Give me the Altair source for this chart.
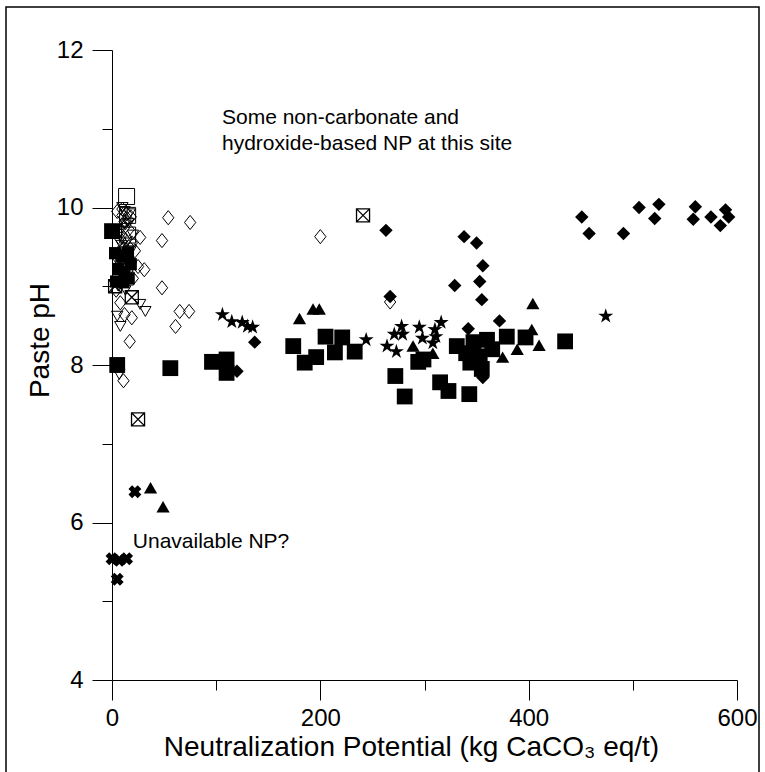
import altair as alt
import pandas as pd

# Neutralization Potential (kg CaCO3 eq/t) and paste pH, one pair of lists per sample group
open_diamond_np = [54, 75, 48, 31, 48, 65, 74, 61, 17, 11, 8, 19, 27, 12, 200, 267,
                   5, 10, 15, 12, 8, 16, 14, 6, 18, 20, 9, 4, 22, 25,
                   10, 14, 18, 12, 16, 9, 13, 19, 11]
open_diamond_ph = [9.87, 9.81, 9.58, 9.21, 8.98, 8.68, 8.68, 8.49, 8.30, 7.80, 8.79, 8.60, 9.62, 8.64, 9.63, 8.80,
                   9.95, 9.90, 9.85, 9.75, 9.60, 9.50, 9.40, 9.35, 9.30, 9.10, 9.05, 8.95, 9.45, 9.25,
                   9.98, 9.92, 9.88, 9.82, 9.72, 9.65, 9.58, 9.55, 9.48]

open_tri_np = [32, 27, 8, 5, 12, 16, 8, 14, 18, 10, 15, 6, 13, 7, 20, 10, 17, 13, 9]
open_tri_ph = [8.68, 8.77, 8.49, 8.62, 9.95, 9.80, 9.70, 9.55, 9.45, 9.30, 9.15, 9.00, 8.95, 7.88, 9.65,
               10.00, 9.92, 9.78, 9.52]

open_square_np = [14, 15, 15, 13]
open_square_ph = [10.14, 9.90, 9.65, 9.40]

filled_square_np = [56, 96, 110, 110, 174, 185, 196, 205, 221, 214, 233, 272, 281, 294, 315, 323,
                    343, 331, 347, 360, 353, 344, 379, 397, 435, 299, 340, 365, 355, 0, 5]
filled_square_ph = [7.96, 8.04, 8.07, 7.90, 8.24, 8.03, 8.10, 8.36, 8.35, 8.16, 8.17, 7.86, 7.60, 8.04, 7.78, 7.67,
                    7.63, 8.24, 8.29, 8.32, 8.11, 8.03, 8.36, 8.35, 8.30, 8.07, 8.15, 8.20, 7.95, 9.70, 8.00]

# Smaller filled squares packed near zero NP
small_square_np = [3, 9, 15, 18, 6, 12, 4, 11, 16]
small_square_ph = [9.42, 9.38, 9.42, 9.28, 9.22, 9.18, 9.06, 9.05, 9.10]

filled_diamond_np = [263, 267, 338, 350, 356, 329, 353, 355, 137, 372, 342, 356, 451, 458, 491, 506,
                     525, 521, 560, 558, 575, 589, 592, 584, 120]
filled_diamond_ph = [9.71, 8.87, 9.63, 9.55, 9.26, 9.01, 9.06, 8.83, 8.29, 8.56, 8.46, 7.84, 9.88, 9.67, 9.67, 10.00,
                     10.04, 9.86, 10.01, 9.85, 9.88, 9.97, 9.88, 9.77, 7.92]

filled_tri_np = [180, 193, 199, 289, 308, 404, 403, 410, 389, 375, 37, 49]
filled_tri_ph = [8.59, 8.71, 8.71, 8.24, 8.15, 8.78, 8.45, 8.25, 8.20, 8.10, 6.44, 6.20]

filled_star_np = [106, 115, 125, 130, 135, 244, 278, 271, 264, 273, 279, 295, 310, 316, 311, 308, 298, 474]
filled_star_ph = [8.64, 8.55, 8.54, 8.49, 8.48, 8.32, 8.49, 8.39, 8.24, 8.17, 8.39, 8.48, 8.45, 8.54, 8.36, 8.28, 8.34, 8.62]

boxed_x_np = [3, 19, 25, 241, 5, 3]
boxed_x_ph = [9.70, 8.86, 7.31, 9.90, 8.00, 9.00]

x_mark_np = [22, 0, 7, 14, 5]
x_mark_ph = [6.39, 5.54, 5.52, 5.54, 5.28]

# Annotations
note_text = ["Some non-carbonate and\nhydroxide-based NP at this site", "Unavailable NP?"]
note_np = [105.6, 20]
note_ph = [11.06, 5.68]

# Axis ticks
x_ticks = [0, 100, 200, 300, 400, 500, 600]
y_ticks = [4, 5, 6, 7, 8, 9, 10, 11, 12]

STAR = ("M0,-1L0.223,-0.307L0.951,-0.309L0.361,0.117L0.588,0.809L0,0.38"
        "L-0.588,0.809L-0.361,0.117L-0.951,-0.309L-0.223,-0.307Z")
BOXED_X = "M-1,-1L1,-1L1,1L-1,1Z M-1,-1L1,1 M1,-1L-1,1"
TALL_DIAMOND = "M0,-1L0.8,0L0,1L-0.8,0Z"

groups = [
    ("open_diamond", open_diamond_np, open_diamond_ph),
    ("open_tri", open_tri_np, open_tri_ph),
    ("open_square", open_square_np, open_square_ph),
    ("small_square", small_square_np, small_square_ph),
    ("filled_square", filled_square_np, filled_square_ph),
    ("filled_diamond", filled_diamond_np, filled_diamond_ph),
    ("filled_tri", filled_tri_np, filled_tri_ph),
    ("filled_star", filled_star_np, filled_star_ph),
    ("boxed_x", boxed_x_np, boxed_x_ph),
    ("x_mark", x_mark_np, x_mark_ph),
]
df = pd.concat(
    [pd.DataFrame({"np": xs, "ph": ys, "group": name}) for name, xs, ys in groups],
    ignore_index=True,
)

FONT = "Liberation Sans"

x_enc = alt.X(
    "np:Q",
    scale=alt.Scale(domain=[0, 600], nice=False, zero=False),
    axis=alt.Axis(
        values=x_ticks,
        format="d",
        labelExpr="datum.value % 200 === 0 ? datum.label : ''",
        tickSize={"condition": {"test": "datum.value % 200 === 0", "value": 20}, "value": 10},
        labelPadding=6,
        labelFontSize=24,
        labelFont=FONT,
        labelColor="black",
        labelFlush=False,
        tickColor="black",
        domainColor="black",
        grid=False,
        title="Neutralization Potential (kg CaCO\u2083 eq/t)",
        titleFont=FONT,
        titleFontSize=28,
        titleFontWeight="normal",
        titleColor="black",
        titleBaseline="alphabetic",
        titleX=299,
        titleY=75,
    ),
)
y_enc = alt.Y(
    "ph:Q",
    scale=alt.Scale(domain=[4, 12], nice=False, zero=False),
    axis=alt.Axis(
        values=y_ticks,
        format="d",
        labelExpr="datum.value % 2 === 0 ? datum.label : ''",
        tickSize={"condition": {"test": "datum.value % 2 === 0", "value": 20}, "value": 10},
        labelPadding=9,
        labelFontSize=24,
        labelFont=FONT,
        labelColor="black",
        labelFlush=False,
        tickColor="black",
        domainColor="black",
        grid=False,
        title="Paste pH",
        titleFont=FONT,
        titleFontSize=28,
        titleFontWeight="normal",
        titleColor="black",
        titleAngle=-90,
        titleAlign="center",
        titleBaseline="middle",
        titleX=-72,
        titleY=290,
    ),
)

base = alt.Chart(df).encode(x=x_enc, y=y_enc)


def pts(name, **kw):
    return base.transform_filter(alt.datum.group == name).mark_point(opacity=1, **kw)


layers = [
    pts("open_diamond", shape=TALL_DIAMOND, size=200, filled=False, color="black", strokeWidth=1),
    pts("open_tri", shape="triangle-down", size=130, filled=False, color="black", strokeWidth=1),
    pts("open_square", shape="square", size=256, filled=False, color="black", strokeWidth=1),
    pts("small_square", shape="square", size=150, filled=True, color="black"),
    pts("filled_square", shape="square", size=250, filled=True, color="black"),
    pts("filled_diamond", shape="diamond", size=180, filled=True, color="black"),
    pts("filled_tri", shape="triangle-up", size=175, filled=True, color="black"),
    pts("filled_star", shape=STAR, size=250, filled=True, color="black"),
    pts("boxed_x", shape=BOXED_X, size=170, filled=False, color="black", strokeWidth=1.3),
    pts("x_mark", shape="cross", angle=45, size=170, filled=True, color="black"),
]

notes = alt.Chart(pd.DataFrame({"np": note_np, "ph": note_ph, "label": note_text})).mark_text(
    align="left", baseline="alphabetic", fontSize=21, font=FONT, color="black",
    lineBreak="\n", lineHeight=26,
).encode(x=alt.X("np:Q"), y=alt.Y("ph:Q"), text="label:N")

# Border around the whole figure
frame = alt.Chart(alt.Data(values=[{"k": 1}])).mark_rect(
    filled=False, stroke="black", strokeWidth=1.5
).encode(
    x=alt.value(-106), x2=alt.value(647), y=alt.value(-43), y2=alt.value(730)
)

chart = alt.layer(*layers, notes, frame).properties(
    width=625,
    height=630,
    autosize=alt.AutoSizeParams(type="none"),
    padding={"left": 112, "top": 50, "right": 28, "bottom": 92},
    background="white",
).configure_view(strokeWidth=0)

chart.save("out.html", embed_options={"renderer": "svg", "actions": False})
